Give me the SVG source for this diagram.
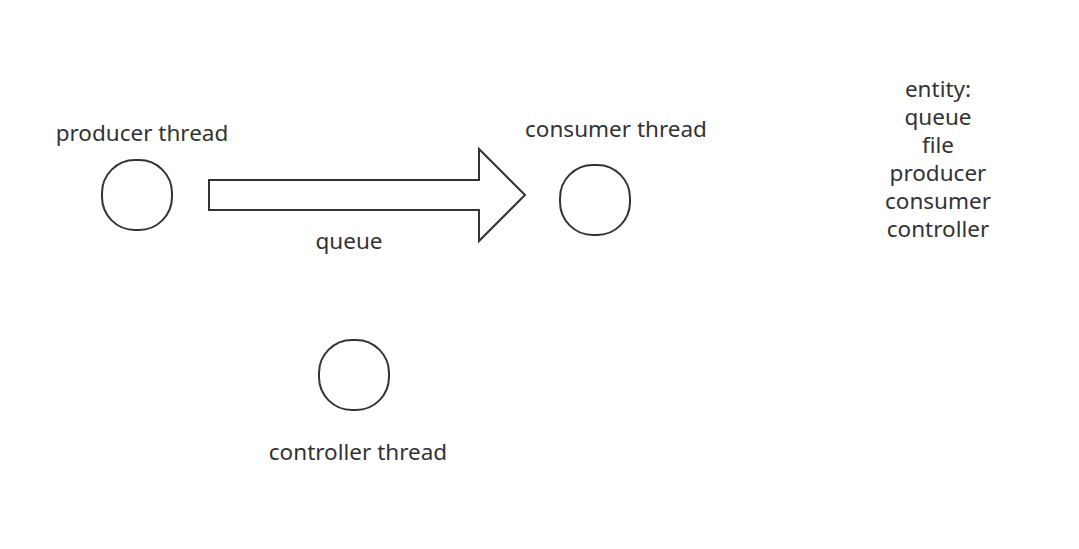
<svg xmlns="http://www.w3.org/2000/svg" width="1079" height="549" viewBox="0 0 1079 549">
<style>
.n{fill:#fff;stroke:#333;stroke-width:2}
.t{font-family:"Noto Sans","Open Sans",sans-serif;font-size:22.5px;fill:#333;text-anchor:middle}
</style>
<rect width="1079" height="549" fill="#fff"/>
<g id="producer">
<rect class="n" x="102" y="160" width="70" height="70" rx="33"/>
<text class="t" x="142" y="141">producer thread</text>
</g>
<g id="consumer">
<rect class="n" x="560" y="165" width="70" height="70" rx="33"/>
<text class="t" x="616" y="137">consumer thread</text>
</g>
<g id="controller">
<rect class="n" x="319" y="340" width="70" height="70" rx="33"/>
<text class="t" x="358" y="460">controller thread</text>
</g>
<g id="connectors">
<path class="n" d="M209,180 H479 V149 L525,195 L479,241 V210 H209 Z"/>
<text class="t" x="349" y="249">queue</text>
</g>
<g id="entity">
<text class="t" x="938" y="97">entity:</text>
<text class="t" x="938" y="125">queue</text>
<text class="t" x="938" y="153">file</text>
<text class="t" x="938" y="181">producer</text>
<text class="t" x="938" y="209">consumer</text>
<text class="t" x="938" y="237">controller</text>
</g>
</svg>
